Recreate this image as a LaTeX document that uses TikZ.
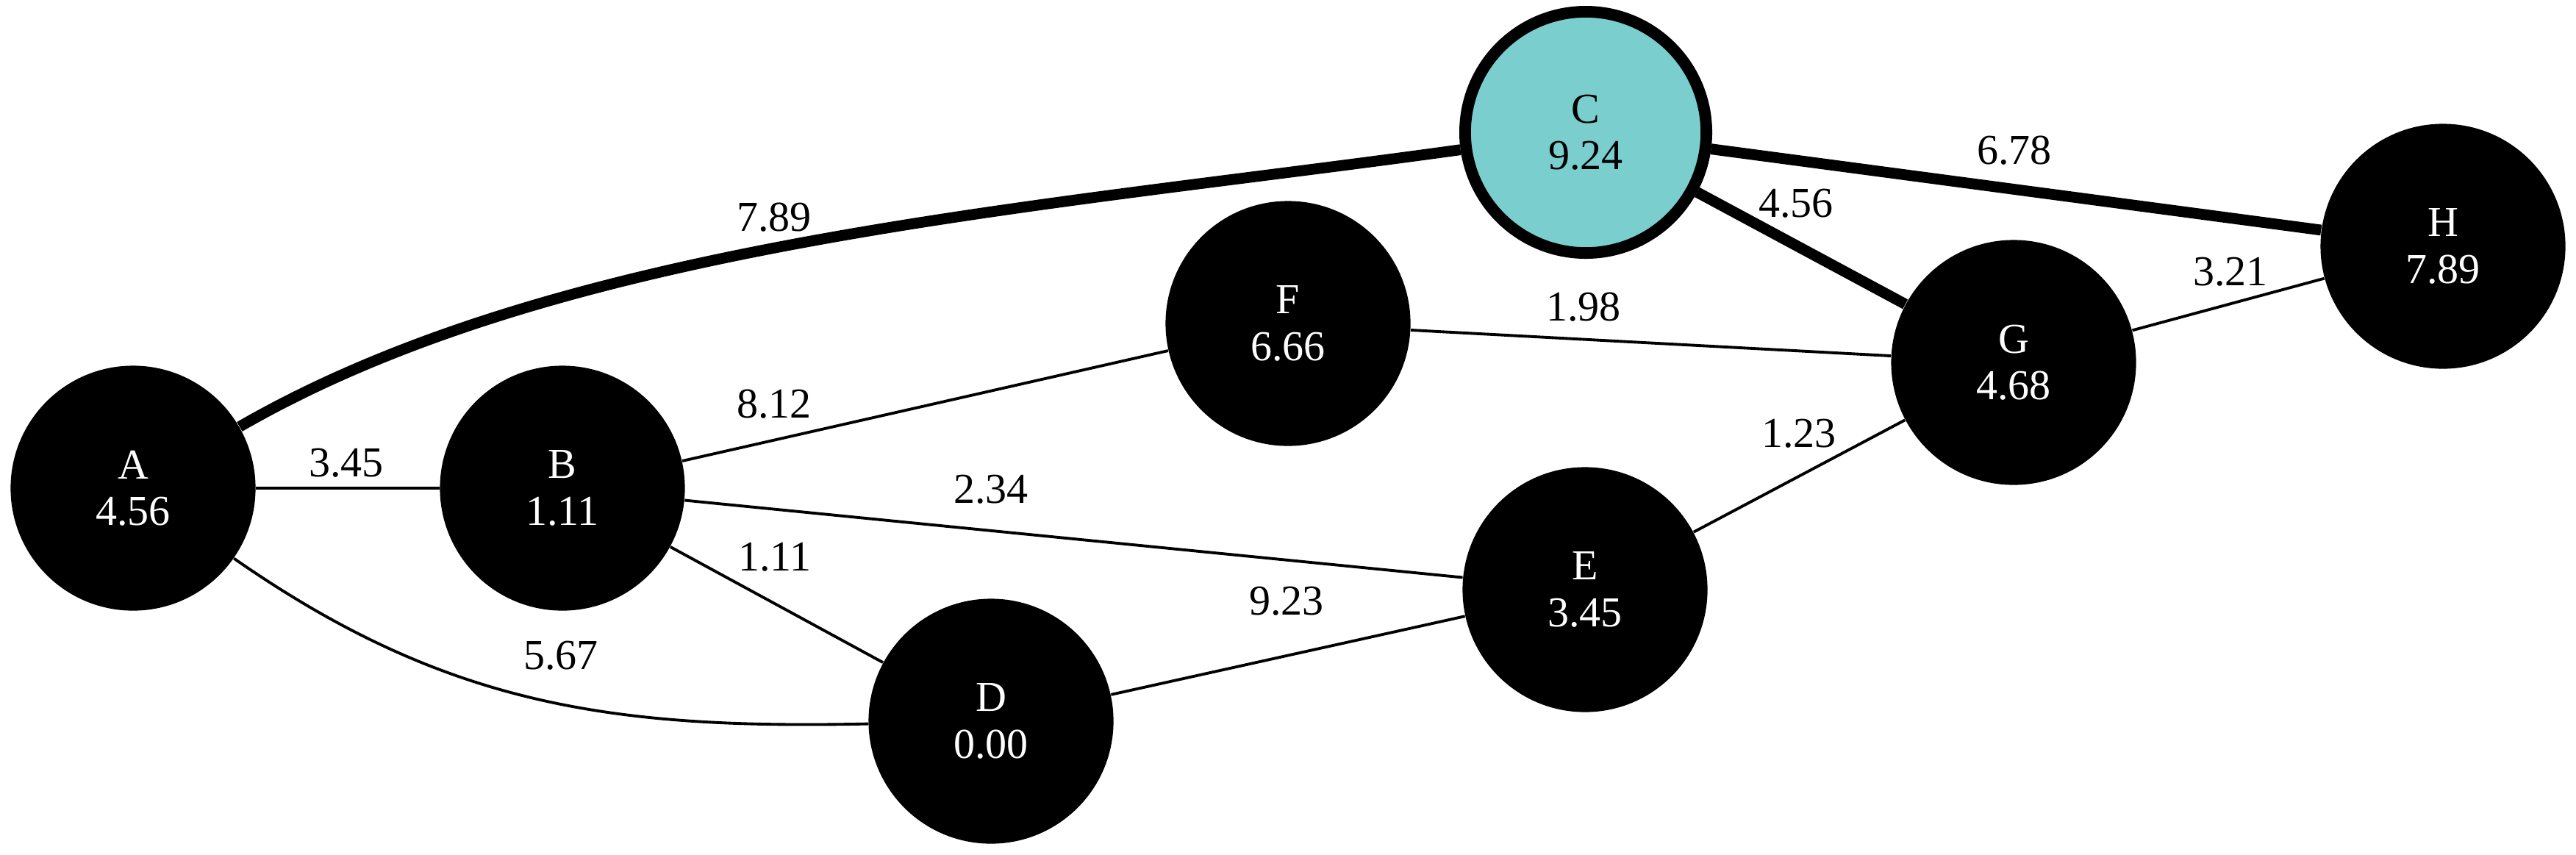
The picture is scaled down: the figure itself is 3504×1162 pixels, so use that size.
\documentclass[tikz,border=0pt]{standalone}
\usepackage{fontspec}
\setmainfont{Liberation Serif}
\definecolor{hubfill}{RGB}{122,206,206}
\begin{document}
\begin{tikzpicture}[x=0.01cm, y=-0.01cm,
    font=\fontsize{16.5}{18}\selectfont,
    vertex/.style={circle, fill=black, text=white, minimum size=3.33cm, inner sep=0pt, align=center},
    hub/.style={vertex, fill=hubfill, text=black, draw=black, line width=4.5pt, minimum size=3.28cm},
    weight/.style={inner sep=1pt},
    link/.style={line width=1.1pt},
    heavy/.style={line width=4.2pt}]
    \useasboundingbox (0,0) rectangle (3504,1162);
    % Vertices
    \node[vertex] (A) at (181,664) {A\\4.56};
    \node[vertex] (B) at (765,664) {B\\1.11};
    \node[hub]    (C) at (2157,180) {C\\9.24};
    \node[vertex] (D) at (1348,981) {D\\0.00};
    \node[vertex] (E) at (2156,802) {E\\3.45};
    \node[vertex] (F) at (1752,440) {F\\6.66};
    \node[vertex] (G) at (2739,493) {G\\4.68};
    \node[vertex] (H) at (3323,335) {H\\7.89};
    % Edges
    \draw[heavy] (A) .. controls (760,330) and (1400,285) .. (C);
    \draw[heavy] (C) -- (G);
    \draw[heavy] (C) -- (H);
    \draw[link] (A) -- (B);
    \draw[link] (A) .. controls (606,960) and (832,992) .. (D);
    \draw[link] (B) -- (F);
    \draw[link] (B) -- (E);
    \draw[link] (B) -- (D);
    \draw[link] (D) -- (E);
    \draw[link] (F) -- (G);
    \draw[link] (E) -- (G);
    \draw[link] (G) -- (H);
    % Weights
    \node[weight] (wAC) at (1053,296) {7.89};
    \node[weight] (wAB) at (471,630) {3.45};
    \node[weight] (wAD) at (763,892) {5.67};
    \node[weight] (wBF) at (1053,550) {8.12};
    \node[weight] (wBE) at (1348,666) {2.34};
    \node[weight] (wBD) at (1054,758) {1.11};
    \node[weight] (wDE) at (1750,818) {9.23};
    \node[weight] (wFG) at (2154,418) {1.98};
    \node[weight] (wEG) at (2447,590) {1.23};
    \node[weight] (wCG) at (2443,277) {4.56};
    \node[weight] (wCH) at (2740,205) {6.78};
    \node[weight] (wGH) at (3034,370) {3.21};
\end{tikzpicture}
\end{document}
